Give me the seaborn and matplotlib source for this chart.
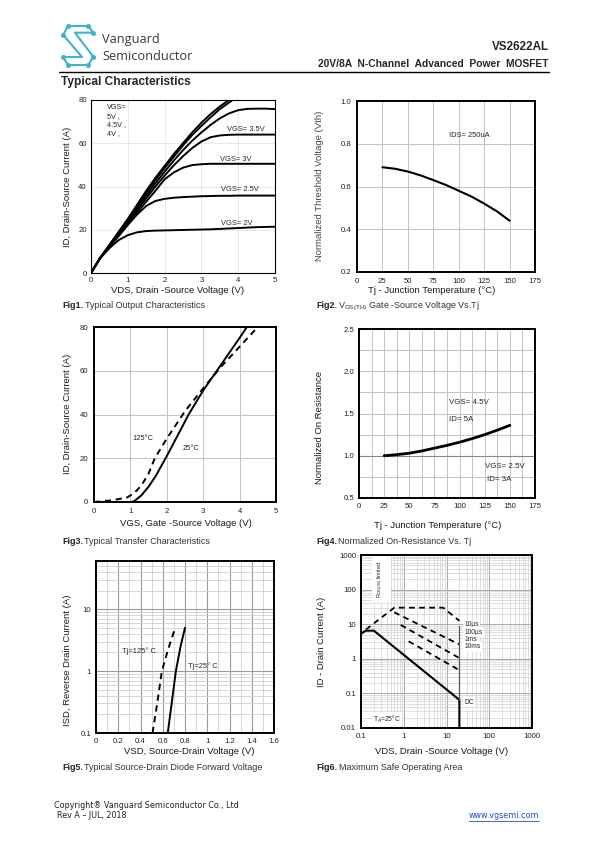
import numpy as np
import pandas as pd
import matplotlib
matplotlib.use("Agg")
import matplotlib.pyplot as plt
import seaborn as sns
from matplotlib.lines import Line2D
from matplotlib.ticker import FixedLocator, NullFormatter

# ---------------- data ----------------
# Fig1: output characteristics (VDS vs ID)
fig1_x_grid = [0, 0.25, 0.5, 0.75, 1, 1.25, 1.5, 1.75, 2, 2.25, 2.5, 2.75, 3,
               3.25, 3.5, 3.75, 4, 4.25, 4.5, 4.75, 5]
fig1_vgs5_x = [0, 0.25, 0.5, 0.75, 1, 1.25, 1.5, 1.75, 2, 2.25, 2.5, 2.75, 3, 3.25, 3.5, 3.75]
fig1_vgs5_y = [0, 7, 13, 19, 25, 31.5, 38, 44, 49.5, 55, 60, 65, 69.5, 73.5, 77, 80]
fig1_vgs45_x = [0, 0.25, 0.5, 0.75, 1, 1.25, 1.5, 1.75, 2, 2.25, 2.5, 2.75, 3, 3.25, 3.5, 3.85]
fig1_vgs45_y = [0, 7, 12.8, 18.7, 24.6, 30.8, 37, 43, 48.5, 53.8, 59, 63.8, 68, 72, 75.8, 80]
fig1_vgs4_y = [0, 7, 12.6, 18.3, 24, 29.8, 35.8, 41.5, 46.8, 52, 56.8, 61.2, 65, 68.5,
               71.5, 73.8, 75.3, 75.9, 76, 76, 75.8]
fig1_vgs35_y = [0, 7, 12.4, 18, 23.5, 29, 34.5, 40, 45, 49.8, 54, 57.8, 60.8, 62.8,
                63.6, 63.9, 64, 64, 64, 64, 64]
fig1_vgs3_y = [0, 7, 12.2, 17.6, 22.8, 28, 33, 38, 43.3, 46.5, 48.7, 49.9, 50.3, 50.5,
               50.5, 50.5, 50.5, 50.5, 50.5, 50.5, 50.5]
fig1_vgs25_y = [0, 7, 12, 17, 22.2, 27, 31, 33.3, 34.3, 34.8, 35.1, 35.3, 35.5, 35.6,
                35.7, 35.7, 35.8, 35.8, 35.8, 35.8, 35.8]
fig1_vgs2_y = [0, 6.8, 11.5, 15.2, 17.5, 18.8, 19.4, 19.6, 19.7, 19.8, 19.9, 20, 20.1,
               20.2, 20.4, 20.6, 20.8, 21, 21.2, 21.3, 21.4]

# Fig2: normalized threshold voltage vs Tj
fig2_tj = [25, 37.5, 50, 62.5, 75, 87.5, 100, 112.5, 125, 137.5, 150]
fig2_vth = [0.69, 0.683, 0.67, 0.652, 0.63, 0.607, 0.58, 0.553, 0.52, 0.484, 0.44]

# Fig3: transfer characteristics
fig3_vgs_25 = [0, 1.0, 1.1, 1.3, 1.5, 1.7, 2.0, 2.3, 2.6, 3.0, 3.5, 4.0, 4.2]
fig3_id_25 = [0, 0, 0.3, 3, 7, 12, 21, 30.5, 40, 51, 63, 75, 80]
fig3_vgs_125 = [0, 0.5, 0.9, 1.1, 1.3, 1.5, 1.67, 2.0, 2.5, 3.0, 3.5, 4.0, 4.5]
fig3_id_125 = [0, 0.8, 2, 4, 7.5, 13, 20, 29, 41.5, 52, 62, 71, 80]

# Fig4: normalized on-resistance vs Tj
fig4_tj = [25, 37.5, 50, 62.5, 75, 87.5, 100, 112.5, 125, 137.5, 150]
fig4_rds = [1.0, 1.013, 1.03, 1.057, 1.09, 1.123, 1.16, 1.203, 1.25, 1.303, 1.36]

# Fig5: source-drain diode forward voltage
fig5_vsd_25 = [0.645, 0.68, 0.718, 0.76, 0.80]
fig5_isd_25 = [0.1, 0.3, 1.0, 2.5, 5.0]
fig5_vsd_125 = [0.508, 0.55, 0.592, 0.65, 0.712]
fig5_isd_125 = [0.1, 0.3, 1.0, 2.3, 5.0]

# Fig6: safe operating area
fig6_dc_v = [0.1, 0.13, 0.2, 20, 20]
fig6_dc_i = [5.3, 6.5, 6.5, 0.065, 0.01]
fig6_10us_v = [0.13, 0.6, 8.4, 20]
fig6_10us_i = [7.0, 30, 30, 12.5]
fig6_100us_v = [0.6, 20]
fig6_100us_i = [22, 2.6]
fig6_1ms_v = [0.85, 20]
fig6_1ms_i = [9.5, 1.05]
fig6_10ms_v = [1.3, 20]
fig6_10ms_i = [3.2, 0.47]
fig6_pulse_labels = ["10µs", "100µs", "1ms", "10ms"]

# ---------------- style ----------------
sns.set_theme(style="white")
NARROW = ['Liberation Sans Narrow', 'Liberation Sans', 'DejaVu Sans']
SANS = ['Liberation Sans', 'DejaVu Sans']
plt.rcParams['font.family'] = NARROW
plt.rcParams['mathtext.fontset'] = 'custom'
plt.rcParams['mathtext.rm'] = 'Liberation Sans'
plt.rcParams['mathtext.it'] = 'Liberation Sans:italic'
plt.rcParams['mathtext.bf'] = 'Liberation Sans:bold'

W, H = 595, 842
fig = plt.figure(figsize=(W / 100, H / 100), dpi=100)
fig.patch.set_facecolor('white')


def P(x, y):
    return x / W, 1 - y / H


def add_ax(l, t, r, b):
    return fig.add_axes([l / W, 1 - b / H, (r - l) / W, (b - t) / H])


def ftext(x, y, s, **kw):
    return fig.text(*P(x, y), s, **kw)


def frame(ax, lw):
    for s in ax.spines.values():
        s.set_visible(True)
        s.set_color('black')
        s.set_linewidth(lw)
    ax.tick_params(length=0, labelsize=5.6, colors='#222222')
    ax.set_xlabel('')
    ax.set_ylabel('')


def line(ax, xs, ys, dashed=False, lw=1.4):
    df = pd.DataFrame({'x': xs, 'y': ys})
    sns.lineplot(data=df, x='x', y='y', ax=ax, color='black', lw=lw,
                 sort=False, estimator=None, legend=False,
                 linestyle='--' if dashed else '-')
    if dashed:
        ax.lines[-1].set_dashes((3.2, 2.4))


LBL = dict(fontsize=6.8, family=SANS, color='#1a1a1a', ha='center', va='center')
GRID = '#c4c4c4'

# ---------------- header ----------------
teal = '#3cb6c8'
segs = [[(63.3, 35), (67.7, 26), (88.3, 26), (93.3, 32.7), (75, 32.7)],
        [(63.3, 35), (82, 57)], [(75, 32.7), (93.3, 56.7)],
        [(82, 57), (63.3, 57), (67.7, 65), (88.3, 65), (93.3, 56.7)]]
for sg in segs:
    xs = [P(*p)[0] for p in sg]
    ys = [P(*p)[1] for p in sg]
    fig.add_artist(Line2D(xs, ys, color=teal, lw=1.5, solid_capstyle='round'))
dots = [(67.7, 26), (88.3, 26), (93.3, 32.7), (63.3, 35), (63.3, 57), (67.7, 65),
        (88.3, 65), (93.3, 56.7)]
fig.add_artist(Line2D([P(*d)[0] for d in dots], [P(*d)[1] for d in dots], ls='none',
                      marker='o', ms=2.6, color=teal))
ftext(102, 40, "Vanguard", fontsize=9.2, family=['Open Sans', 'DejaVu Sans'], color='#3a3a3a', va='center')
ftext(102, 56, "Semiconductor", fontsize=9.2, family=['Open Sans', 'DejaVu Sans'], color='#3a3a3a', va='center')
ftext(549, 47, "VS2622AL", fontsize=8.4, family=SANS, weight='bold', ha='right', va='center')
ftext(549, 64, "20V/8A  N-Channel  Advanced  Power  MOSFET", fontsize=7.4, family=SANS,
      weight='bold', ha='right', va='center')
fig.add_artist(Line2D([P(59, 0)[0], P(549, 0)[0]], [P(0, 71.5)[1]] * 2, color='black', lw=1.0))
ftext(61, 82, "Typical Characteristics", fontsize=8.6, family=SANS, weight='bold', va='center')

renderer = fig.canvas.get_renderer()


def caption(x, y, bold, rest, size=6.5):
    t = ftext(x, y, bold, fontsize=size, family=SANS, weight='bold', va='center')
    bb = t.get_window_extent(renderer=renderer)
    ftext(x + bb.width + 1.5, y, rest, fontsize=size, family=SANS, color='#333333', va='center')


# ---------------- Fig1 ----------------
ax1 = add_ax(91, 100, 275, 273)
line(ax1, fig1_vgs5_x, fig1_vgs5_y)
line(ax1, fig1_vgs45_x, fig1_vgs45_y)
for ys in [fig1_vgs4_y, fig1_vgs35_y, fig1_vgs3_y, fig1_vgs25_y, fig1_vgs2_y]:
    line(ax1, fig1_x_grid, ys)
frame(ax1, 0.8)
ax1.set_xlim(0, 5)
ax1.set_ylim(0, 80)
ax1.set_xticks([0, 1, 2, 3, 4, 5], labels=['0', '1', '2', '3', '4', '5'])
ax1.set_yticks([0, 20, 40, 60, 80], labels=['0', '20', '40', '60', '80'])
ax1.grid(True, color='#e4e4e4', lw=0.6)
ax1.tick_params(pad=3)
ax1.text(0.43, 78, "VGS=\n5V ,\n4.5V ,\n4V ,", fontsize=5.2, va='top', ha='left', linespacing=1.3)
ax1.text(4.2, 66.5, "VGS= 3.5V", fontsize=5.4, ha='center', va='center')
ax1.text(3.93, 52.3, "VGS= 3V", fontsize=5.4, ha='center', va='center')
ax1.text(4.05, 38.5, "VGS= 2.5V", fontsize=5.4, ha='center', va='center')
ax1.text(3.96, 22.8, "VGS= 2V", fontsize=5.4, ha='center', va='center')
ftext(68, 187, "ID, Drain-Source Current (A)", rotation=90, **LBL)
ftext(178, 291, "VDS, Drain -Source Voltage (V)", **LBL)
caption(62, 306, "Fig1.", "Typical Output Characteristics")

# ---------------- Fig2 ----------------
ax2 = add_ax(357, 101, 535, 272)
line(ax2, fig2_tj, fig2_vth, lw=1.5)
frame(ax2, 1.4)
ax2.set_xlim(0, 175)
ax2.set_ylim(0.2, 1.0)
ax2.set_xticks(list(range(0, 176, 25)), labels=[str(v) for v in range(0, 176, 25)])
ax2.set_yticks([0.2, 0.4, 0.6, 0.8, 1.0], labels=['0.2', '0.4', '0.6', '0.8', '1.0'])
ax2.grid(True, color=GRID, lw=0.7)
ax2.tick_params(pad=4)
ax2.text(110, 0.84, "IDS= 250uA", fontsize=5.4, ha='center', va='center')
ftext(320, 186, "Normalized Threshold Voltage (Vth)", rotation=90, **{**LBL, 'color': '#444444'})
ftext(432, 291, "Tj - Junction Temperature (°C)", **LBL)
caption(316, 306, "Fig2.", r"V$_{\mathrm{GS(TH)}}$ Gate -Source Voltage Vs.Tj")

# ---------------- Fig3 ----------------
ax3 = add_ax(94, 327, 276, 502)
line(ax3, fig3_vgs_25, fig3_id_25)
line(ax3, fig3_vgs_125, fig3_id_125, dashed=True)
frame(ax3, 1.4)
ax3.set_xlim(0, 5)
ax3.set_ylim(0, 80)
ax3.set_xticks([0, 1, 2, 3, 4, 5], labels=['0', '1', '2', '3', '4', '5'])
ax3.set_yticks([0, 20, 40, 60, 80], labels=['0', '20', '40', '60', '80'])
ax3.grid(True, color=GRID, lw=0.7)
ax3.tick_params(pad=4)
ax3.text(1.35, 29, "125°C", fontsize=5.4, ha='center', va='center')
ax3.text(2.67, 24.4, "25°C", fontsize=5.4, ha='center', va='center')
ftext(68, 414, "ID, Drain-Source Current (A)", rotation=90, **LBL)
ftext(186, 523, "VGS, Gate -Source Voltage (V)", **LBL)
caption(62, 541, "Fig3.", "Typical Transfer Characteristics")

# ---------------- Fig4 ----------------
ax4 = add_ax(359, 329, 535, 498)
line(ax4, fig4_tj, fig4_rds, lw=2.0)
frame(ax4, 1.4)
ax4.set_xlim(0, 175)
ax4.set_ylim(0.5, 2.5)
ax4.set_xticks(list(range(0, 176, 25)), labels=[str(v) for v in range(0, 176, 25)])
ax4.set_yticks([0.5, 1.0, 1.5, 2.0, 2.5], labels=['0.5', '1.0', '1.5', '2.0', '2.5'])
ax4.xaxis.set_minor_locator(FixedLocator([12.5 + 25 * i for i in range(7)]))
ax4.yaxis.set_minor_locator(FixedLocator([0.75, 1.25, 1.75, 2.25]))
ax4.tick_params(which='minor', length=0)
ax4.grid(True, which='both', color=GRID, lw=0.7)
ax4.axhline(1.0, color='#888888', lw=0.8, zorder=1)
ax4.text(89, 1.63, "VGS= 4.5V", fontsize=5.7, ha='left', va='center')
ax4.text(89, 1.43, "ID= 5A", fontsize=5.7, ha='left', va='center')
ax4.text(125, 0.87, "VGS= 2.5V", fontsize=5.7, ha='left', va='center')
ax4.text(127, 0.72, "ID= 3A", fontsize=5.7, ha='left', va='center')
ftext(320, 427, "Normalized On Resistance", rotation=90, **LBL)
ftext(438, 525, "Tj - Junction Temperature (°C)", **LBL)
caption(316, 541, "Fig4.", "Normalized On-Resistance Vs. Tj")

# ---------------- Fig5 ----------------
ax5 = add_ax(96, 561, 274, 733)
line(ax5, fig5_vsd_25, fig5_isd_25)
line(ax5, fig5_vsd_125, fig5_isd_125, dashed=True)
frame(ax5, 1.4)
ax5.set_yscale('log')
ax5.set_xlim(0, 1.6)
ax5.set_ylim(0.1, 60)
ax5.set_xticks([0, 0.2, 0.4, 0.6, 0.8, 1.0, 1.2, 1.4, 1.6],
               labels=['0', '0.2', '0.4', '0.6', '0.8', '1', '1.2', '1.4', '1.6'])
ax5.xaxis.set_minor_locator(FixedLocator([0.1 + 0.2 * i for i in range(8)]))
ax5.set_yticks([0.1, 1, 10], labels=['0.1', '1', '10'])
ax5.yaxis.set_minor_locator(FixedLocator([k * d for d in (0.1, 1, 10) for k in range(2, 10) if k * d <= 60]))
ax5.yaxis.set_minor_formatter(NullFormatter())
ax5.tick_params(which='both', length=0)
ax5.grid(True, which='minor', color='#d0d0d0', lw=0.6)
ax5.grid(True, which='major', color='#9a9a9a', lw=0.8)
ax5.text(0.23, 2.1, "Tj=125° C", fontsize=5.4, ha='left', va='center')
ax5.text(0.83, 1.2, "Tj=25° C", fontsize=5.4, ha='left', va='center')
ftext(67, 660, "ISD, Reverse Drain Current (A)", rotation=90, **LBL)
ftext(189, 751, "VSD, Source-Drain Voltage (V)", **LBL)
caption(62, 767, "Fig5.", "Typical Source-Drain Diode Forward Voltage")

# ---------------- Fig6 ----------------
ax6 = add_ax(361, 555, 532, 728)
ax6.set_xscale('log')
ax6.set_yscale('log')
line(ax6, fig6_dc_v, fig6_dc_i, lw=1.5)
for vs, is_ in [(fig6_10us_v, fig6_10us_i), (fig6_100us_v, fig6_100us_i),
                (fig6_1ms_v, fig6_1ms_i), (fig6_10ms_v, fig6_10ms_i)]:
    line(ax6, vs, is_, dashed=True, lw=1.3)
ax6.plot([20, 20], [0.065, 9], color='#555555', lw=0.9)
frame(ax6, 1.4)
ax6.set_xlim(0.1, 1000)
ax6.set_ylim(0.01, 1000)
ax6.set_xticks([0.1, 1, 10, 100, 1000], labels=['0.1', '1', '10', '100', '1000'])
ax6.set_yticks([0.01, 0.1, 1, 10, 100, 1000], labels=['0.01', '0.1', '1', '10', '100', '1000'])
ax6.xaxis.set_minor_locator(FixedLocator([k * d for d in (0.1, 1, 10, 100) for k in range(2, 10)]))
ax6.yaxis.set_minor_locator(FixedLocator([k * d for d in (0.01, 0.1, 1, 10, 100) for k in range(2, 10)]))
ax6.xaxis.set_minor_formatter(NullFormatter())
ax6.yaxis.set_minor_formatter(NullFormatter())
ax6.tick_params(which='both', length=0)
ax6.grid(True, which='minor', color='#d2d2d2', lw=0.5)
ax6.grid(True, which='major', color='#a8a8a8', lw=0.7)
wb = dict(facecolor='white', edgecolor='none', pad=1.0)
for lab, yv in zip(fig6_pulse_labels, [9.5, 5.95, 3.5, 2.2]):
    ax6.text(26, yv, lab, fontsize=4.8, ha='left', va='center', bbox=wb)
ax6.text(26, 0.056, "DC", fontsize=4.8, ha='left', va='center', bbox=wb)
ax6.text(0.19, 0.018, r"T$_A$=25°C", fontsize=4.8, ha='left', va='center', bbox=wb)
ax6.text(0.3, 190, r"R$_{DS(ON)}$ limited", fontsize=4.0, rotation=90, ha='center',
         va='center', bbox=dict(facecolor='white', edgecolor='none', pad=3))
ftext(321, 642, "ID - Drain Current (A)", rotation=90, **LBL)
ftext(442, 751, "VDS, Drain -Source Voltage (V)", **LBL)
caption(316, 767, "Fig6.", "Maximum Safe Operating Area")

# ---------------- footer ----------------
FOOT = dict(fontsize=5.8, family=['DejaVu Sans'], color='#222222', va='center')
ftext(54, 805, "Copyright® Vanguard Semiconductor Co., Ltd", **FOOT)
ftext(57, 816, "Rev A – JUL, 2018", **FOOT)
t = ftext(539, 816, "www.vgsemi.com", **{**FOOT, 'color': '#1f4fd0', 'ha': 'right'})
bb = t.get_window_extent(renderer=renderer)
fig.add_artist(Line2D([P(539 - bb.width, 0)[0], P(539, 0)[0]], [P(0, 820.5)[1]] * 2,
                      color='#1f4fd0', lw=0.6))

fig.savefig("out.png", dpi=100, facecolor='white')
